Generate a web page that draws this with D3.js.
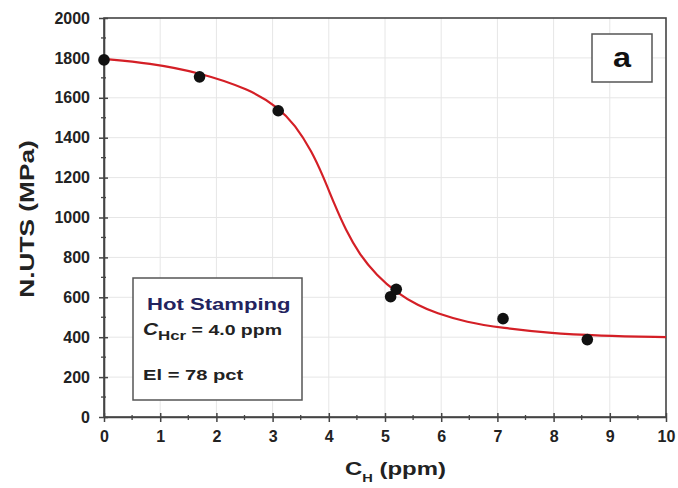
<!DOCTYPE html>
<html><head><meta charset="utf-8">
<script src="https://cdn.jsdelivr.net/npm/d3@7"></script>
<style>
body{margin:0;background:#fff;}
text{font-family:"Liberation Sans",Arial,sans-serif;font-weight:bold;}
</style></head>
<body>
<svg id="c" width="678" height="488"></svg>
<script>
// Data
const pointX = [0, 1.7, 3.1, 5.1, 5.2, 7.1, 8.6];
const pointY = [1790, 1705, 1535, 603, 640, 493, 388];
const curveX = [0, 0.8, 1.7, 2.6, 3.1, 3.4, 3.7, 3.9, 4.1, 4.3, 4.55, 4.85, 5.2, 5.6, 5.9, 6.45, 7.1, 7.9, 8.8, 10];
const curveY = [1795, 1775, 1727, 1642, 1552, 1465, 1330, 1206, 1066, 938, 813, 711, 624, 557, 522, 474, 446, 421, 407, 400];
const xTicks = [0,1,2,3,4,5,6,7,8,9,10];
const yTicks = [0,200,400,600,800,1000,1200,1400,1600,1800,2000];

const svg = d3.select("#c");
const L=104, R=666, T=18, B=417;
const x = d3.scaleLinear().domain([0,10]).range([L,R]);
const y = d3.scaleLinear().domain([0,2000]).range([B,T]);

// grid
const g = svg.append("g");
g.selectAll(".gx").data(xTicks.slice(1,-1)).join("line")
  .attr("x1",d=>x(d)).attr("x2",d=>x(d)).attr("y1",T).attr("y2",B)
  .attr("stroke","#e6e6e6").attr("stroke-width",1);
g.selectAll(".gy").data(yTicks.slice(1,-1)).join("line")
  .attr("y1",d=>y(d)).attr("y2",d=>y(d)).attr("x1",L).attr("x2",R)
  .attr("stroke","#e6e6e6").attr("stroke-width",1);

// frame
svg.append("rect").attr("x",L).attr("y",T).attr("width",R-L).attr("height",B-T)
  .attr("fill","none").attr("stroke","#444").attr("stroke-width",1.6);

// axes
const xMinor = d3.range(0.5,10,1);
const yMinor = d3.range(100,2000,200);
const xa = svg.append("g").attr("transform",`translate(0,${B})`)
  .call(d3.axisBottom(x).tickValues(xTicks).tickFormat(d3.format("d")).tickSizeInner(5).tickSizeOuter(0).tickPadding(9));
const ya = svg.append("g").attr("transform",`translate(${L},0)`)
  .call(d3.axisLeft(y).tickValues(yTicks).tickFormat(d3.format("d")).tickSizeInner(5).tickSizeOuter(0).tickPadding(9));
[xa,ya].forEach(a=>{
  a.select(".domain").attr("stroke","#444").attr("stroke-width",1.6);
  a.selectAll(".tick line").attr("stroke","#444").attr("stroke-width",1.5);
  a.selectAll(".tick text").attr("fill","#222").style("font-size","16px").style("font-weight","bold");
});
xa.selectAll(".tick line").attr("y1",-4);
ya.selectAll(".tick line").attr("x1",4);
svg.append("g").selectAll("line").data(xMinor).join("line")
  .attr("x1",d=>x(d)).attr("x2",d=>x(d)).attr("y1",B-2).attr("y2",B+3)
  .attr("stroke","#444").attr("stroke-width",1.3);
svg.append("g").selectAll("line").data(yMinor).join("line")
  .attr("y1",d=>y(d)).attr("y2",d=>y(d)).attr("x1",L-3).attr("x2",L+2)
  .attr("stroke","#444").attr("stroke-width",1.3);

// curve
const line = d3.line().x(d=>x(d[0])).y(d=>y(d[1])).curve(d3.curveBasis);
svg.append("path").datum(curveX.map((v,i)=>[v,curveY[i]]))
  .attr("d",line).attr("fill","none").attr("stroke","#d41f26").attr("stroke-width",2.2);

// points
svg.append("g").selectAll("circle").data(pointX.map((v,i)=>[v,pointY[i]])).join("circle")
  .attr("cx",d=>x(d[0])).attr("cy",d=>y(d[1])).attr("r",5.8).attr("fill","#111");

// axis titles
svg.append("text").attr("transform","translate(34,219) rotate(-90) scale(1.25,1)").attr("text-anchor","middle")
  .style("font-size","21px").attr("fill","#222").text("N.UTS (MPa)");
const xt = svg.append("text").attr("transform","translate(345,475) scale(1.33,1)")
  .style("font-size","18px").attr("fill","#222");
xt.append("tspan").text("C");
xt.append("tspan").attr("dy",7).style("font-size","11px").text("H");
xt.append("tspan").attr("dy",-7).text(" (ppm)");

// legend box
svg.append("rect").attr("x",133).attr("y",278).attr("width",169).attr("height",122)
  .attr("fill","#fff").attr("stroke","#555").attr("stroke-width",1.5);
svg.append("text").attr("transform","translate(147,310) scale(1.3,1)").style("font-size","17px").attr("fill","#23235e").text("Hot Stamping");
const t2 = svg.append("text").attr("transform","translate(143,335) scale(1.3,1)").style("font-size","15px").attr("fill","#222");
t2.append("tspan").style("font-style","italic").style("font-size","16px").text("C");
t2.append("tspan").attr("dy",5).style("font-size","13px").text("Hcr");
t2.append("tspan").attr("dy",-5).text(" = 4.0 ppm");
svg.append("text").attr("transform","translate(143,380) scale(1.3,1)").style("font-size","15.5px").attr("fill","#222").text("El = 78 pct");

// label a
svg.append("rect").attr("x",592).attr("y",34).attr("width",60).attr("height",48)
  .attr("fill","#fff").attr("stroke","#555").attr("stroke-width",1.5);
svg.append("text").attr("transform","translate(622,67) scale(1.2,1)").attr("text-anchor","middle").style("font-size","27px").attr("fill","#111").text("a");
</script>
</body></html>
